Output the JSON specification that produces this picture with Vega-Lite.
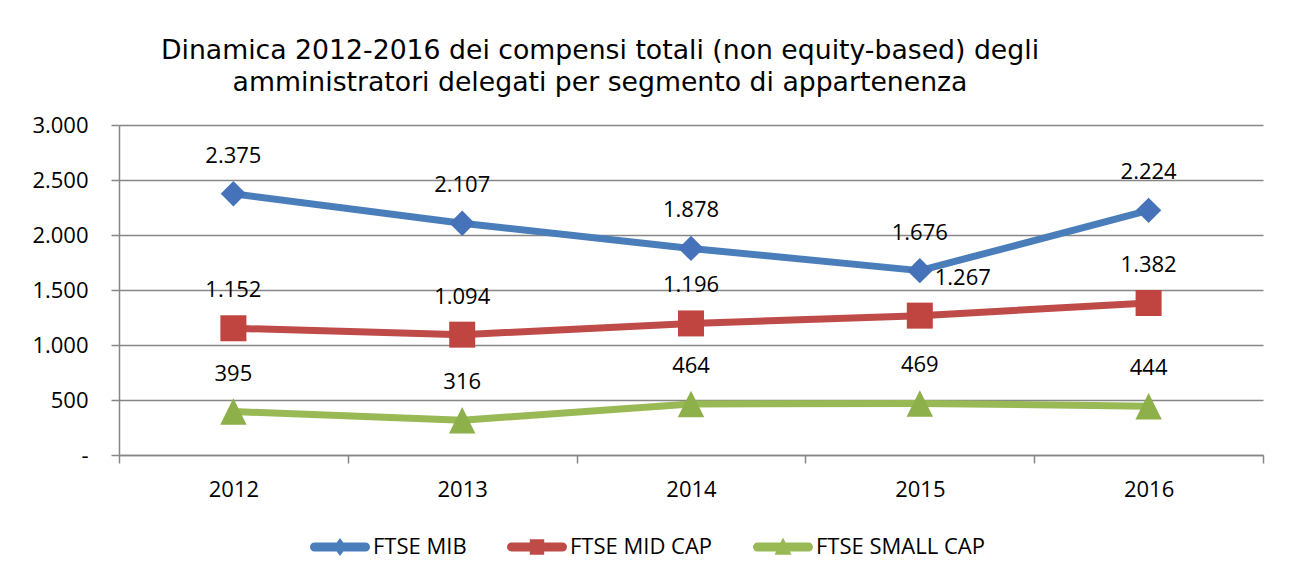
{
  "$schema": "https://vega.github.io/schema/vega-lite/v6.json",
  "width": 1144,
  "height": 330,
  "autosize": {"type": "none"},
  "padding": {"left": 119, "top": 125, "right": 32, "bottom": 131},
  "background": "white",
  "config": {
    "locale": {"number": {"decimal": ",", "thousands": ".", "grouping": [3], "currency": ["€", ""]}},
    "view": {"stroke": null}
  },
  "title": {
    "text": ["Dinamica 2012-2016 dei compensi totali (non equity-based) degli", "amministratori delegati per segmento di appartenenza"],
    "font": "DejaVu Sans",
    "fontSize": 26.7,
    "fontWeight": "normal",
    "color": "#000000",
    "anchor": "middle",
    "frame": "group",
    "dx": -91,
    "offset": 17,
    "lineHeight": 32
  },
  "data": {
    "values": [
      {"year": "2012", "series": "FTSE MIB", "value": 2375},
      {"year": "2013", "series": "FTSE MIB", "value": 2107},
      {"year": "2014", "series": "FTSE MIB", "value": 1878},
      {"year": "2015", "series": "FTSE MIB", "value": 1676},
      {"year": "2016", "series": "FTSE MIB", "value": 2224},
      {"year": "2012", "series": "FTSE MID CAP", "value": 1152},
      {"year": "2013", "series": "FTSE MID CAP", "value": 1094},
      {"year": "2014", "series": "FTSE MID CAP", "value": 1196},
      {"year": "2015", "series": "FTSE MID CAP", "value": 1267},
      {"year": "2016", "series": "FTSE MID CAP", "value": 1382},
      {"year": "2012", "series": "FTSE SMALL CAP", "value": 395},
      {"year": "2013", "series": "FTSE SMALL CAP", "value": 316},
      {"year": "2014", "series": "FTSE SMALL CAP", "value": 464},
      {"year": "2015", "series": "FTSE SMALL CAP", "value": 469},
      {"year": "2016", "series": "FTSE SMALL CAP", "value": 444}
    ]
  },
  "encoding": {
    "x": {
      "field": "year",
      "type": "ordinal",
      "scale": {"type": "band", "paddingInner": 0, "paddingOuter": 0},
      "axis": {
        "title": null,
        "labelAngle": 0,
        "tickBand": "extent",
        "tickSize": 8,
        "tickWidth": 1.5,
        "tickColor": "#868686",
        "domainColor": "#868686",
        "domainWidth": 1.5,
        "labelPadding": 16,
        "labelFont": "Open Sans",
        "labelFontSize": 22,
        "labelColor": "#000000",
        "grid": false
      }
    },
    "y": {
      "field": "value",
      "type": "quantitative",
      "scale": {"domain": [0, 3000], "nice": false},
      "axis": {
        "title": null,
        "values": [0, 500, 1000, 1500, 2000, 2500, 3000],
        "format": ",.0f",
        "labelExpr": "datum.value == 0 ? '-\u2007' : datum.label",
        "tickSize": 8,
        "tickWidth": 1.5,
        "tickColor": "#868686",
        "domainColor": "#868686",
        "domainWidth": 1.5,
        "labelPadding": 23,
        "labelFont": "Open Sans",
        "labelFontSize": 22,
        "labelColor": "#000000",
        "grid": true,
        "gridColor": "#868686",
        "gridWidth": 1.5
      }
    }
  },
  "layer": [
    {
      "mark": {"type": "line", "strokeWidth": 7, "strokeCap": "round", "strokeJoin": "round"},
      "encoding": {
        "color": {
          "field": "series",
          "type": "nominal",
          "scale": {"domain": ["FTSE MIB", "FTSE MID CAP", "FTSE SMALL CAP"], "range": ["#4A7EBB", "#BE4B48", "#98B954"]},
          "legend": {
            "orient": "none",
            "legendX": 191,
            "legendY": 392,
            "direction": "horizontal",
            "title": null,
            "labelFont": "Open Sans",
            "labelFontSize": 22,
            "labelColor": "#000000",
            "labelLimit": 400,
            "symbolSize": 3600,
            "labelOffset": 3,
            "columnPadding": 40,
            "encode": {
              "symbols": {
                "update": {
                  "shape": {"signal": "datum.value === 'FTSE MIB' ? 'M-0.85,-0.15H0.85A0.15,0.15,0,0,1,0.85,0.15H-0.85A0.15,0.15,0,0,1,-0.85,-0.15Z M0,-0.3L0.22,0L0,0.3L-0.22,0Z' : datum.value === 'FTSE MID CAP' ? 'M-0.85,-0.15H0.85A0.15,0.15,0,0,1,0.85,0.15H-0.85A0.15,0.15,0,0,1,-0.85,-0.15Z M-0.24,-0.26H0.24V0.26H-0.24Z' : 'M-0.85,-0.15H0.85A0.15,0.15,0,0,1,0.85,0.15H-0.85A0.15,0.15,0,0,1,-0.85,-0.15Z M0,-0.32L0.28,0.26L-0.28,0.26Z'"},
                  "fill": {"scale": "color", "field": "value"},
                  "stroke": {"value": "transparent"},
                  "strokeWidth": {"value": 0},
                  "opacity": {"value": 1}
                }
              }
            }
          }
        }
      }
    },
    {
      "transform": [{"filter": "datum.series == 'FTSE MIB'"}],
      "mark": {"type": "point", "filled": true, "opacity": 1, "size": 640, "shape": "diamond", "color": "#4572B8"}
    },
    {
      "transform": [{"filter": "datum.series == 'FTSE MID CAP'"}],
      "mark": {"type": "point", "filled": true, "opacity": 1, "size": 676, "shape": "square", "color": "#C0443F"}
    },
    {
      "transform": [{"filter": "datum.series == 'FTSE SMALL CAP'"}],
      "mark": {"type": "point", "filled": true, "opacity": 1, "size": 700, "shape": "M0,-1L1,1L-1,1Z", "color": "#8DB04A"}
    },
    {
      "transform": [{"filter": "!(datum.year == '2015' && datum.series == 'FTSE MID CAP')"}],
      "mark": {"type": "text", "dy": -38, "font": "Open Sans", "fontSize": 22, "color": "#000000", "baseline": "middle"},
      "encoding": {"text": {"field": "value", "type": "quantitative", "format": ","}}
    },
    {
      "transform": [{"filter": "datum.year == '2015' && datum.series == 'FTSE MID CAP'"}],
      "mark": {"type": "text", "dy": -38, "dx": 43, "font": "Open Sans", "fontSize": 22, "color": "#000000", "baseline": "middle"},
      "encoding": {"text": {"field": "value", "type": "quantitative", "format": ","}}
    }
  ]
}
